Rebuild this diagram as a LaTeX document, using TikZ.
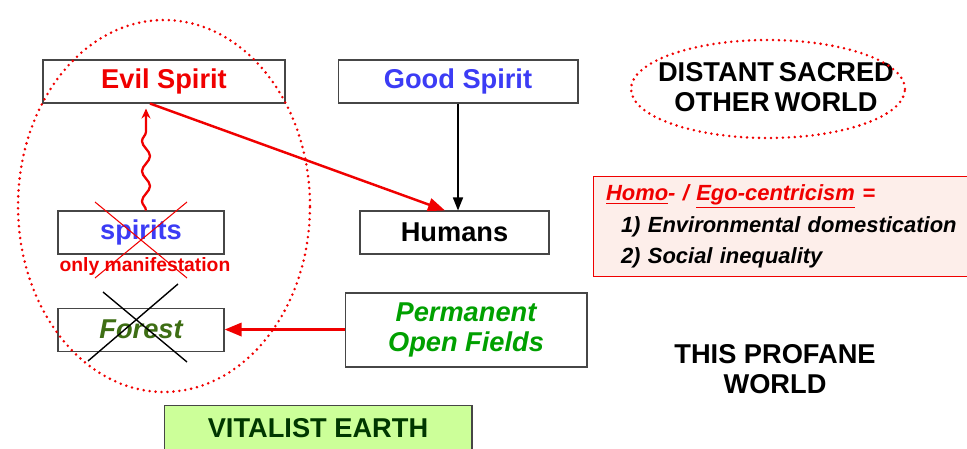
\documentclass[tikz,border=0pt]{standalone}
\usepackage{fontspec}
\setmainfont{Liberation Sans}
\usepackage{xcolor}
\usepackage{tikz}
\usetikzlibrary{arrows.meta, positioning, shapes.geometric, decorations.pathmorphing}
\definecolor{evilred}{RGB}{240,0,0}
\definecolor{goodblue}{RGB}{60,60,245}
\definecolor{fieldgreen}{RGB}{0,160,0}
\definecolor{forestgreen}{RGB}{62,110,20}
\definecolor{earthgreen}{RGB}{0,55,0}
\definecolor{earthfill}{RGB}{204,255,153}
\definecolor{homofill}{RGB}{253,238,234}
\tikzset{
    box/.style={
        rectangle,
        draw=gray!55!black,
        semithick,
        minimum height=0.86cm,
        fill=white,
        align=center,
        inner sep=0pt,
        font=\fontsize{15.5}{17}\selectfont\bfseries
    },
    label/.style={
        align=center,
        inner sep=0pt,
        font=\fontsize{15.5}{17}\selectfont\bfseries
    },
    dotring/.style={
        draw=evilred,
        line width=1.6pt,
        line cap=round,
        dash pattern=on 0pt off 3.4pt
    },
    redarrow/.style={
        draw=evilred,
        line width=1.4pt,
        -{Triangle[length=3.4mm, width=2.6mm]}
    },
    blackarrow/.style={
        draw=black,
        line width=0.9pt,
        -{Triangle[length=2.6mm, width=2mm]}
    },
    wavy/.style={
        draw=evilred,
        line width=1.3pt,
        decorate,
        decoration={snake, amplitude=0.08cm, segment length=0.6cm, post length=0.25cm},
        -{Stealth[length=2mm, width=1.8mm]}
    },
    cross/.style={
        line width=0.6pt
    }
}

\begin{document}
\begin{tikzpicture}[x=0.02cm, y=-0.02cm]
\useasboundingbox (0,0) rectangle (967,449);

% Spirit boxes
\node[box, minimum width=4.84cm, text=evilred] (evil) at (164,81.5) {Evil Spirit};
\node[box, minimum width=4.8cm, text=goodblue] (good) at (458,81.5) {Good Spirit};
\node[box, minimum width=3.78cm] (humans) at (454.5,232.5) {Humans};
\node[box, minimum width=3.32cm, text=goodblue] (spirits) at (141,232.5) {spirits};
\node[label, text=evilred, font=\fontsize{11}{12}\selectfont\bfseries, below=0.05cm of spirits, xshift=0.08cm] (manif) {only manifestation};
\node[box, minimum width=3.32cm, text=forestgreen, below=1.06cm of spirits] (forest) {\itshape Forest};
\node[box, minimum width=4.84cm, minimum height=1.48cm, text=fieldgreen] (fields) at (466,330) {\itshape Permanent\\\itshape Open Fields};
\node[box, minimum width=6.16cm, minimum height=0.9cm, fill=earthfill, text=earthgreen] (earth) at (318,428) {VITALIST EARTH};

% Worlds
\node[label] (sacred) at (776,87) {DISTANT\hspace{0.18em}SACRED\\OTHER\hspace{0.18em}WORLD};
\draw[dotring] (768,89) ellipse [x radius=2.74cm, y radius=0.98cm];
\node[label] (profane) at (775,369) {THIS PROFANE\\WORLD};
\draw[dotring] (164,206) ellipse [x radius=2.92cm, y radius=3.72cm];

% Centricism box
\node[rectangle, draw=evilred, semithick, fill=homofill, anchor=north west,
      minimum width=8cm, minimum height=2cm, text width=7.5cm, inner xsep=0.24cm,
      align=left, font=\fontsize{12.5}{18}\selectfont\bfseries\itshape] (homo) at (593,176)
  {\textcolor{evilred}{\underline{Homo}- / \underline{Ego-centricism} =}\\
   \hspace*{0.3cm}1) Environmental domestication\\
   \hspace*{0.3cm}2) Social inequality};

% Crosses
\draw[cross, evilred] (95,202) -- (187,278);
\draw[cross, evilred] (187,202) -- (95,278);
\draw[cross, black, line width=0.8pt] (103,292) -- (187,362);
\draw[cross, black, line width=0.8pt] (178,284) -- (88,361);

% Connectors
\draw[redarrow] ([xshift=-0.28cm]evil.south) -- ([xshift=-0.19cm]humans.north);
\draw[blackarrow] (good.south) -- (good.south |- humans.north);
\draw[wavy] ([xshift=0.1cm]spirits.north) -- ([xshift=-0.36cm, yshift=-0.1cm]evil.south);
\draw[redarrow, line width=1.8pt] (forest.east -| fields.west) -- (forest.east);

\end{tikzpicture}
\end{document}
